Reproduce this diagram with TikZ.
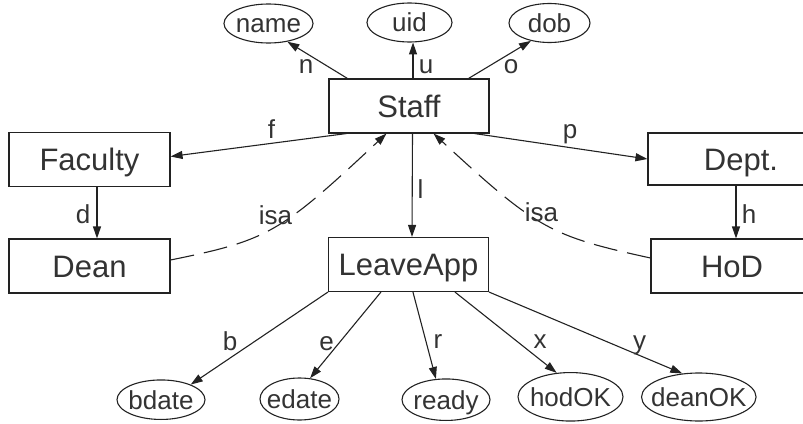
\documentclass[tikz,border=0pt]{standalone}
\usepackage{fontspec}
\setmainfont{Liberation Sans}
\usetikzlibrary{arrows.meta,shapes.geometric,calc}
\definecolor{ink}{HTML}{222222}
\definecolor{txt}{HTML}{333333}
\begin{document}
\begin{tikzpicture}[x=1pt,y=-1pt,
  entity/.style={draw=ink, line width=1.1pt, rectangle, inner sep=0pt,
    minimum height=54pt, minimum width=160pt, text=txt,
    font=\fontsize{31}{36}\selectfont, text height=22.3pt, text depth=0pt},
  attr/.style={draw=ink, line width=1.1pt, ellipse, inner sep=0pt, text=txt,
    font=\fontsize{26}{30}\selectfont, text height=18.7pt, text depth=0pt},
  lbl/.style={font=\fontsize{26}{30}\selectfont, text=txt, anchor=base, inner sep=0pt},
  link/.style={draw=ink, line width=1.1pt, -{Triangle[length=12pt,width=8pt]}},
  isalink/.style={link, dash pattern=on 24pt off 10pt},
]
\useasboundingbox (0,0) rectangle (803,423);

% entities
\node[entity] (staff) at (409,106) {Staff};
\node[entity, minimum width=161pt] (faculty) at (89.5,159.5) {Faculty};
\node[entity, minimum width=161pt] (dean) at (89.5,266) {Dean};
\node[entity] (leave) at (408.5,264.5) {LeaveApp};
\node[entity, minimum width=186pt, minimum height=52pt] (dept) at (741,159) {Dept.};
\node[entity, minimum width=162pt] (hod) at (732,266) {HoD};

% attributes
\node[attr, minimum width=89pt, minimum height=39pt] (name) at (268.5,23.5) {\makebox[0pt]{name}};
\node[attr, minimum width=85pt, minimum height=39pt] (uid) at (409.5,22.5) {\makebox[0pt]{uid}};
\node[attr, minimum width=81pt, minimum height=39pt] (dob) at (549.5,23) {\makebox[0pt]{dob}};
\node[attr, minimum width=88pt, minimum height=39.5pt] (bdate) at (161,399.7) {\makebox[0pt]{bdate}};
\node[attr, minimum width=79pt, minimum height=42pt] (edate) at (299.5,399) {\makebox[0pt]{edate}};
\node[attr, minimum width=88pt, minimum height=41.5pt] (ready) at (446,399.7) {\makebox[0pt]{ready}};
\node[attr, minimum width=105pt, minimum height=48.5pt] (hodok) at (570.5,396.8) {\makebox[0pt]{hodOK}};
\node[attr, minimum width=114.5pt, minimum height=48pt] (deanok) at (698.8,397) {\makebox[0pt]{deanOK}};

% relationships from Staff
\draw[link] ([xshift=19pt]staff.north west) -- (name.-44);
\draw[link] (uid.-80 |- staff.north) -- (uid.-80);
\draw[link] ([xshift=-21pt]staff.north east) -- (dob.-136);
\draw[link] ([xshift=18pt]staff.south west) -- ([yshift=3pt]faculty.east);
\draw[link] ([xshift=-15pt]staff.south east) -- (dept.west);
\draw[link] ([xshift=3.5pt]staff.south) -- ([xshift=3.5pt]leave.north);
\draw[link] ([xshift=7.5pt]faculty.south) -- ([xshift=7.5pt]dean.north);
\draw[link] ([xshift=-5pt]dept.south) -- ([xshift=4pt]hod.north);

% isa links
\draw[isalink] ([yshift=6pt]dean.east) .. controls +(98,-20) and +(-107,100) .. ([xshift=58pt]staff.south west);
\draw[isalink] ([yshift=8pt]hod.west) .. controls +(-100,-22) and +(104,96) .. ([xshift=-56pt]staff.south east);

% LeaveApp attributes
\draw[link] (leave.south west) -- (bdate.27);
\draw[link] ([xshift=53pt]leave.south west) -- (edate.63);
\draw[link] ([xshift=85pt]leave.south west) -- (ready.116);
\draw[link] ([xshift=127pt]leave.south west) -- (hodok.120);
\draw[link] (leave.south east) -- (deanok.125);

% edge labels
\node[lbl] (ln) at (306,73) {n};
\node[lbl] (lu) at (426,73) {u};
\node[lbl] (lo) at (511,73) {o};
\node[lbl] (lf) at (271.5,138) {f};
\node[lbl] (lp) at (570,138) {p};
\node[lbl] (ll) at (420.5,198) {l};
\node[lbl] (ld) at (83,223) {d};
\node[lbl] (lh) at (749,223) {h};
\node[lbl] (lisa1) at (275.5,224) {isa};
\node[lbl] (lisa2) at (541.5,221) {isa};
\node[lbl] (lb) at (230,350) {b};
\node[lbl] (le) at (326.5,350) {e};
\node[lbl] (lr) at (438,348) {r};
\node[lbl] (lx) at (540,348) {x};
\node[lbl] (ly) at (639.5,349) {y};
\end{tikzpicture}
\end{document}
